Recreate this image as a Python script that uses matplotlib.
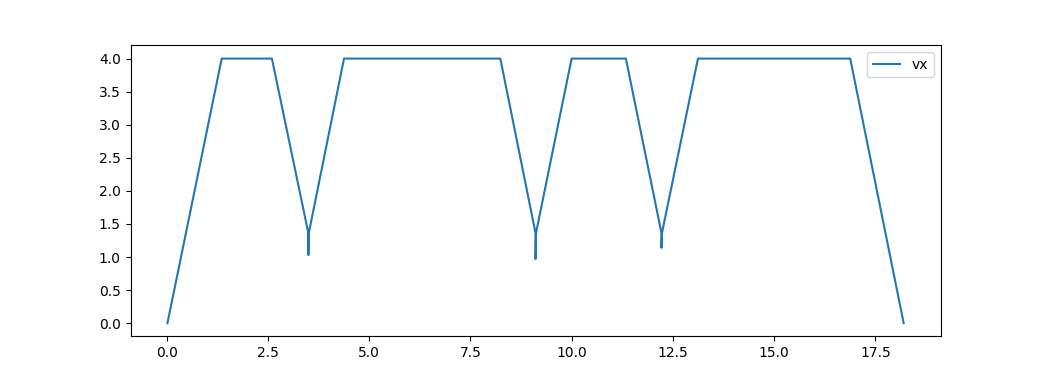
import matplotlib
matplotlib.use("Agg")
import matplotlib.pyplot as plt

t = [0.02, 1.36, 2.60, 3.50, 3.50, 3.51, 4.38, 8.24, 9.11, 9.11, 9.12, 10.00,
     11.34, 12.22, 12.22, 12.23, 13.12, 16.88, 18.20]
vx = [0.0, 4.0, 4.0, 1.36, 1.03, 1.36, 4.0, 4.0, 1.36, 0.97, 1.36, 4.0,
      4.0, 1.36, 1.14, 1.36, 4.0, 4.0, 0.0]

fig, ax = plt.subplots(figsize=(10.45, 3.78), dpi=100)
ax.plot(t, vx, label="vx")
ax.legend(loc="upper right")
fig.savefig("out.png")
